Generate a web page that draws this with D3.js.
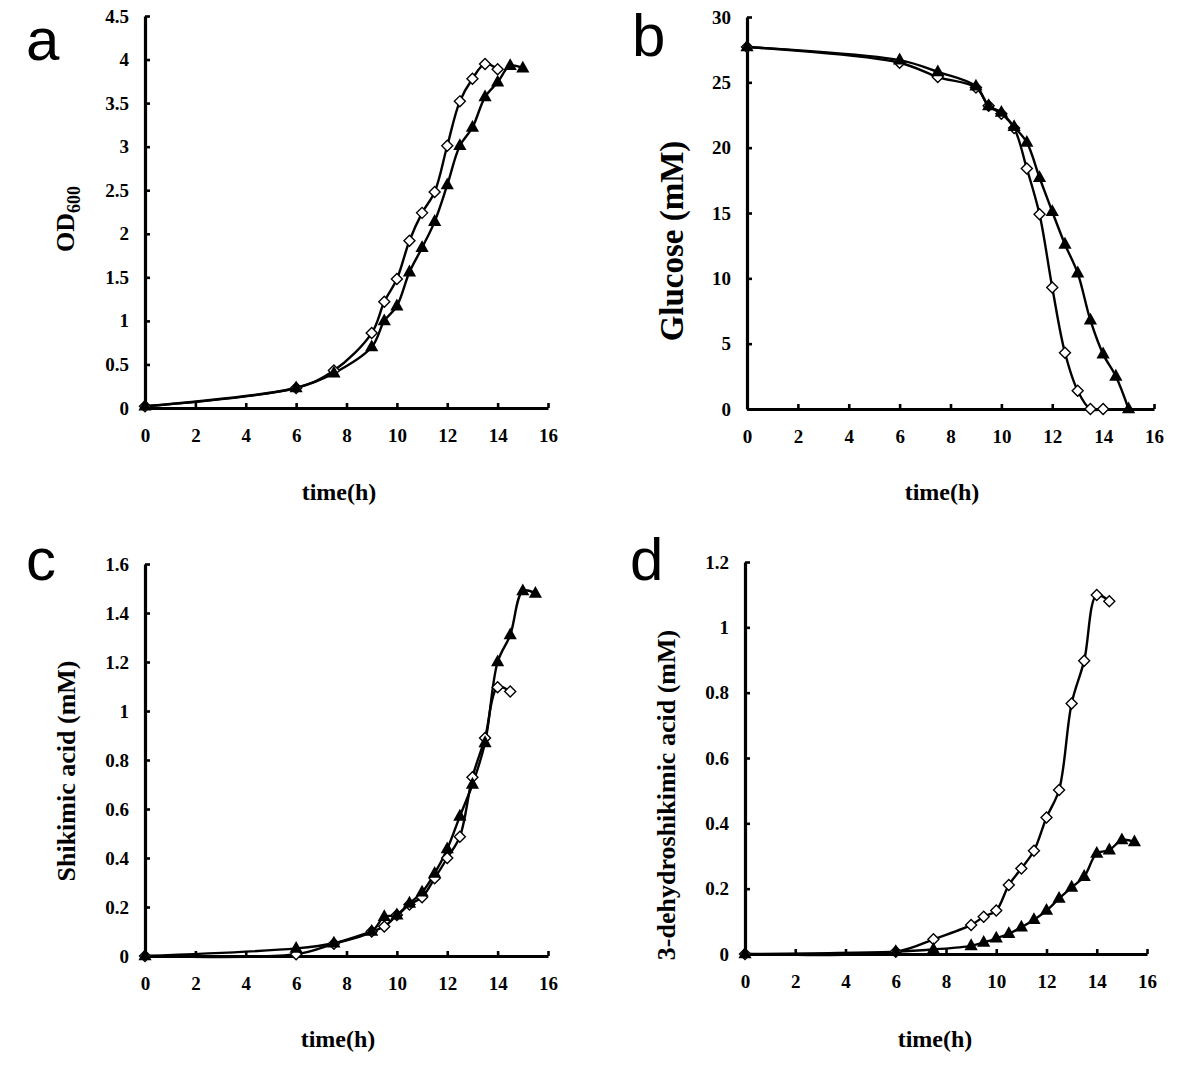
<!DOCTYPE html>
<html><head><meta charset="utf-8">
<script src="https://cdn.jsdelivr.net/npm/d3@7"></script>
<style>
html,body{margin:0;padding:0;background:#fff;}
svg{display:block;}
</style></head>
<body>
<svg id="c" width="1200" height="1071"></svg>
<script>
// ---------- DATA ----------
const xTicks = [0,2,4,6,8,10,12,14,16];
const xTickLabels = ["0","2","4","6","8","10","12","14","16"];

const timeOpenA = [0,6,7.5,9,9.5,10,10.5,11,11.5,12,12.5,13,13.5,14];
const odOpen = [0.02,0.23,0.43,0.86,1.22,1.48,1.92,2.24,2.48,3.01,3.52,3.78,3.95,3.89];
const timeFillA = [0,6,7.5,9,9.5,10,10.5,11,11.5,12,12.5,13,13.5,14,14.5,15];
const odFilled = [0.02,0.23,0.40,0.70,1.00,1.17,1.56,1.84,2.14,2.56,3.01,3.22,3.57,3.74,3.93,3.90];
const odTicks = [0,0.5,1,1.5,2,2.5,3,3.5,4,4.5];
const odTickLabels = ["0","0.5","1","1.5","2","2.5","3","3.5","4","4.5"];

const timeOpenB = [0,6,7.5,9,9.5,10,10.5,11,11.5,12,12.5,13,13.5,14];
const glucoseOpen = [27.7,26.5,25.4,24.6,23.2,22.6,21.5,18.4,14.9,9.3,4.3,1.4,0,0];
const timeFillB = [0,6,7.5,9,9.5,10,10.5,11,11.5,12,12.5,13,13.5,14,14.5,15];
const glucoseFilled = [27.7,26.7,25.8,24.7,23.2,22.7,21.6,20.4,17.7,15.1,12.6,10.4,6.8,4.2,2.5,0];
const glucoseTicks = [0,5,10,15,20,25,30];
const glucoseTickLabels = ["0","5","10","15","20","25","30"];

const timeOpenC = [0,6,7.5,9,9.5,10,10.5,11,11.5,12,12.5,13,13.5,14,14.5];
const shikimicOpen = [0,0.007,0.05,0.10,0.12,0.167,0.21,0.24,0.317,0.40,0.487,0.73,0.89,1.097,1.08];
const timeFillC = [0,6,7.5,9,9.5,10,10.5,11,11.5,12,12.5,13,13.5,14,14.5,15,15.5];
const shikimicFilled = [0,0.031,0.052,0.10,0.16,0.167,0.215,0.26,0.337,0.437,0.57,0.70,0.87,1.20,1.31,1.49,1.48];
const shikimicTicks = [0,0.2,0.4,0.6,0.8,1,1.2,1.4,1.6];
const shikimicTickLabels = ["0","0.2","0.4","0.6","0.8","1","1.2","1.4","1.6"];

const timeOpenD = [0,6,7.5,9,9.5,10,10.5,11,11.5,12,12.5,13,13.5,14,14.5];
const dhsOpen = [0,0.007,0.045,0.089,0.114,0.133,0.211,0.262,0.316,0.418,0.502,0.767,0.898,1.099,1.08];
const timeFillD = [0,6,7.5,9,9.5,10,10.5,11,11.5,12,12.5,13,13.5,14,14.5,15,15.5];
const dhsFilled = [0,0.007,0.014,0.025,0.035,0.048,0.062,0.082,0.105,0.133,0.17,0.204,0.237,0.308,0.318,0.349,0.343];
const dhsTicks = [0,0.2,0.4,0.6,0.8,1,1.2];
const dhsTickLabels = ["0","0.2","0.4","0.6","0.8","1","1.2"];

const panelLetters = ["a","b","c","d"];
const yTitles = ["OD","Glucose (mM)","Shikimic acid (mM)","3-dehydroshikimic acid (mM)"];
const xTitle = "time(h)";

// ---------- LAYOUT ----------
const panels = [
  {letter:panelLetters[0], x0:145, x1:548, y0:408, y1:16, ymax:4.5, ticks:odTicks, tickLabels:odTickLabels,
   open:[timeOpenA,odOpen], filled:[timeFillA,odFilled], title:yTitles[0], sub:"600", titleX:65, titleY:219, titleSize:26,
   letterX:26, letterY:60, xTitleX:339, xTitleY:500},
  {letter:panelLetters[1], x0:747, x1:1154, y0:409, y1:17, ymax:30, ticks:glucoseTicks, tickLabels:glucoseTickLabels,
   open:[timeOpenB,glucoseOpen], filled:[timeFillB,glucoseFilled], title:yTitles[1], titleX:671, titleY:241, titleSize:33,
   letterX:632, letterY:56, xTitleX:942, xTitleY:500},
  {letter:panelLetters[2], x0:145, x1:548, y0:956, y1:564, ymax:1.6, ticks:shikimicTicks, tickLabels:shikimicTickLabels,
   open:[timeOpenC,shikimicOpen], filled:[timeFillC,shikimicFilled], title:yTitles[2], titleX:66, titleY:771, titleSize:26,
   letterX:26, letterY:580, xTitleX:338, xTitleY:1047},
  {letter:panelLetters[3], x0:745, x1:1147, y0:954, y1:562, ymax:1.2, ticks:dhsTicks, tickLabels:dhsTickLabels,
   open:[timeOpenD,dhsOpen], filled:[timeFillD,dhsFilled], title:yTitles[3], titleX:666, titleY:795, titleSize:26,
   letterX:630, letterY:580, xTitleX:935, xTitleY:1047}
];

const svg = d3.select("#c");
const serif = "'Liberation Serif','Times New Roman',serif";
const sans = "'Liberation Sans',Arial,Helvetica,sans-serif";

const diamond = "M0,-5.5L5.5,0L0,5.5L-5.5,0Z";
const triangle = "M0,-7.5L6.6,4.3L-6.6,4.3Z";

panels.forEach(p => {
  const x = d3.scaleLinear().domain([0,16]).range([p.x0,p.x1]);
  const y = d3.scaleLinear().domain([0,p.ymax]).range([p.y0,p.y1]);

  const line = d3.line().x(d=>x(d[0])).y(d=>y(d[1])).curve(d3.curveCatmullRom.alpha(0.5));
  const openPts = p.open[0].map((t,i)=>[t,p.open[1][i]]);
  const fillPts = p.filled[0].map((t,i)=>[t,p.filled[1][i]]);

  // axes
  const xa = svg.append("g").attr("transform",`translate(0,${p.y0})`)
    .call(d3.axisBottom(x).tickValues(xTicks).tickFormat((d,i)=>xTickLabels[i]).tickSizeInner(-5).tickSizeOuter(0).tickPadding(21));
  const ya = svg.append("g").attr("transform",`translate(${p.x0},0)`)
    .call(d3.axisLeft(y).tickValues(p.ticks).tickFormat((d,i)=>p.tickLabels[i]).tickSizeInner(-5).tickSizeOuter(0).tickPadding(16));
  [xa,ya].forEach(a=>{
    a.select(".domain").attr("stroke","#000").attr("stroke-width",3.2);
    a.selectAll(".tick line").attr("stroke","#000").attr("stroke-width",2.6);
    a.selectAll(".tick text").attr("fill","#000").style("font-family",serif).style("font-weight","bold").style("font-size","19px");
  });

  // series
  const g = svg.append("g");
  g.append("path").datum(openPts).attr("d",line).attr("fill","none").attr("stroke","#000").attr("stroke-width",2.4);
  g.append("path").datum(fillPts).attr("d",line).attr("fill","none").attr("stroke","#000").attr("stroke-width",2.4);

  g.selectAll(".dia").data(openPts).enter().append("path")
    .attr("d",diamond).attr("transform",d=>`translate(${x(d[0])},${y(d[1])})`)
    .attr("fill","#fff").attr("stroke","#000").attr("stroke-width",1.4);
  g.selectAll(".tri").data(fillPts).enter().append("path")
    .attr("d",triangle).attr("transform",d=>`translate(${x(d[0])},${y(d[1])})`)
    .attr("fill","#000");

  // titles
  const yt = svg.append("text").attr("transform",`translate(${p.titleX},${p.titleY}) rotate(-90)`)
    .attr("text-anchor","middle").attr("dy","0.35em")
    .style("font-family",serif).style("font-weight","bold").style("font-size",p.titleSize+"px").attr("fill","#000");
  yt.append("tspan").text(p.title);
  if (p.sub) yt.append("tspan").text(p.sub).attr("dy","0.3em").style("font-size","18px");

  svg.append("text").attr("x",p.xTitleX).attr("y",p.xTitleY).attr("text-anchor","middle")
    .style("font-family",serif).style("font-weight","bold").style("font-size","24px").attr("fill","#000").text(xTitle);

  svg.append("text").attr("x",p.letterX).attr("y",p.letterY)
    .style("font-family",sans).style("font-size","60px").attr("fill","#000").text(p.letter);
});
</script>
</body></html>
